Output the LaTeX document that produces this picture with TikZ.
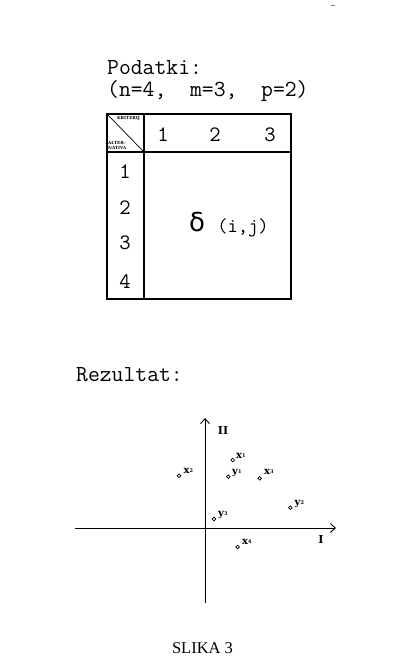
\documentclass[tikz,border=0pt]{standalone}
\usepackage{fontspec}
\newfontfamily\dejavu{DejaVu Sans}
\newfontfamily\dserif{DejaVu Serif}
\newfontfamily\timesf{Liberation Serif}
\usetikzlibrary{arrows.meta}
\newcommand{\heavytt}{\ttfamily\addfontfeature{FakeBold=1.2}}
\begin{document}
\begin{tikzpicture}[x=1pt,y=-1pt,
  mono/.style={font=\fontsize{23}{26}\selectfont\heavytt, inner sep=0pt, anchor=base west},
  digit/.style={font=\fontsize{22}{24}\selectfont\heavytt, inner sep=0pt},
  tiny/.style={font=\fontsize{4.2}{4.6}\selectfont\dserif\bfseries, inner sep=0pt},
  tabline/.style={line width=1.1pt},
  axis/.style={line width=0.9pt},
  axisarrow/.style={axis, -{Straight Barb[length=5pt,width=9pt,line width=0.9pt]}},
  pt/.style={circle, draw, line width=0.7pt, inner sep=0pt, minimum size=3.6pt},
  lab/.style={font=\fontsize{10}{11}\selectfont\dserif\bfseries, inner sep=0pt, anchor=base west},
  axlab/.style={font=\fontsize{11}{12}\selectfont\dserif\bfseries, inner sep=0pt}]
\useasboundingbox (0,0) rectangle (417,670);
\fill[white] (0,0) rectangle (417,670);

% stray mark
\draw[gray, line width=1pt] (331,5) -- (335,5);

% headings
\node[mono] (pod) at (107,74) {Podatki:};
\node[mono] (par) at (107,96) {(n=4,\ \ m=3,\ \ p=2)};

% table
\draw[tabline] (107,114) rectangle (291,299);
\draw[tabline] (107,152) -- (291,152);
\draw[tabline] (144,114) -- (144,299);
\draw[line width=0.7pt] (107,114) -- (144,152);
\node[tiny] (krit) at (128.5,118.5) {KRITERIJ};
\node[tiny, anchor=west] (alt1) at (108,143) {ALTER-};
\node[tiny, anchor=west] (alt2) at (108,147.5) {NATIVA};

\node[digit] (c1) at (163,135) {1};
\node[digit] (c2) at (215,135) {2};
\node[digit] (c3) at (270,135) {3};
\node[digit] (r1) at (125,172) {1};
\node[digit] (r2) at (125,208) {2};
\node[digit] (r3) at (125,243) {3};
\node[digit] (r4) at (125,282) {4};
\node[inner sep=0pt, font=\fontsize{26}{28}\selectfont\dejavu] (delta) at (197,222) {δ};
\node[inner sep=0pt, font=\fontsize{20}{22}\selectfont\heavytt] (ij) at (243,228) {(i,j)};

% result
\node[mono] (rez) at (76,381) {Rezultat:};

\coordinate (vb) at (205,603);
\coordinate (vt) at (205,418);
\coordinate (hl) at (75,528);
\coordinate (hr) at (336,528);
\draw[axisarrow] (vb) -- (vt);
\draw[axisarrow] (hl) -- (hr);
\node[axlab] (II) at (223,430) {II};
\node[axlab] (I) at (321,539) {I};

\node[pt] (px1) at (232.7,460) {};
\node[lab] (lx1) at (236,458) {x\raisebox{0.8pt}{\fontsize{5}{5}\selectfont 1}};
\node[pt] (px2) at (179,475.7) {};
\node[lab] (lx2) at (183.5,473.3) {x\raisebox{0.8pt}{\fontsize{5}{5}\selectfont 2}};
\node[pt] (py1) at (228.3,476.7) {};
\node[lab] (ly1) at (232,474.5) {y\raisebox{0.8pt}{\fontsize{5}{5}\selectfont 1}};
\node[pt] (px3) at (259.7,478.3) {};
\node[lab] (lx3) at (264,474.5) {x\raisebox{0.8pt}{\fontsize{5}{5}\selectfont 3}};
\node[pt] (py2) at (290.3,507.7) {};
\node[lab] (ly2) at (294.5,505) {y\raisebox{0.8pt}{\fontsize{5}{5}\selectfont 2}};
\node[pt] (py3) at (214,519) {};
\node[lab] (ly3) at (218,516.5) {y\raisebox{0.8pt}{\fontsize{5}{5}\selectfont 3}};
\node[pt] (px4) at (237.7,547) {};
\node[lab] (lx4) at (242,544.5) {x\raisebox{0.8pt}{\fontsize{5}{5}\selectfont 4}};

\node[inner sep=0pt, font=\fontsize{16.5}{18}\selectfont\timesf] (slika) at (202.5,648) {SLIKA 3};
\end{tikzpicture}
\end{document}
